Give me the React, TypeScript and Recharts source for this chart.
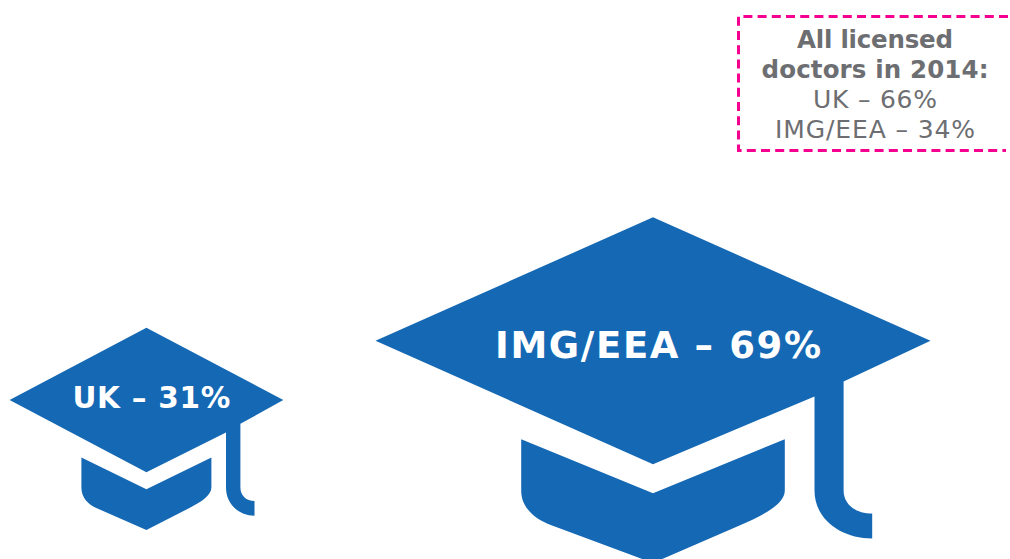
import * as React from "react";
import { Bar, BarChart, XAxis, YAxis } from "recharts";

// Share of new licences by place of qualification, with all licensed doctors alongside.
const categories = ["UK", "IMG/EEA"];
const newDoctorShare = [31, 69];
const allDoctorShare = [66, 34];
const allDoctorsTitle = ["All licensed", "doctors in 2014:"];

const rows = categories.map((name, i) => ({ name, share: newDoctorShare[i] }));

const CAP_BLUE = "#1468b4";
const NOTE_GREY = "#6d6e71";
const NOTE_PINK = "#f5008f";
const FONT = "'DejaVu Sans', Verdana, sans-serif";

// Cap artwork is a fixed outline; each category gets its own drawn size.
const capSize: Record<string, { w: number; h: number; font: number; labelDy: number; labelW: number }> = {
  UK: { w: 273.7, h: 202.3, font: 29.5, labelDy: 80.6, labelW: 158 },
  "IMG/EEA": { w: 555, h: 345.7, font: 37, labelDy: 141, labelW: 326 },
};

const noteTitleWidths = [156, 227];
const noteLineWidths = [124, 200];

function capPaths(cx: number, top: number, w: number, h: number) {
  const X = (u: number) => (cx + u * w).toFixed(1);
  const Y = (v: number) => (top + v * h).toFixed(1);
  const P = (u: number, v: number) => `${X(u)} ${Y(v)}`;

  const board = [
    `M${P(0, 0)}`,
    `L${P(0.5, 0.357)}`,
    `L${P(0.3434, 0.475)}`,
    `L${P(0.3434, 0.79)}`,
    `C${P(0.3434, 0.83)} ${P(0.365, 0.857)} ${P(0.395, 0.857)}`,
    `L${P(0.395, 0.929)}`,
    `C${P(0.34, 0.929)} ${P(0.291, 0.875)} ${P(0.291, 0.79)}`,
    `L${P(0.291, 0.518)}`,
    `L${P(0, 0.714)}`,
    `L${P(-0.5, 0.357)}`,
    "Z",
  ].join(" ");

  const flap = [
    `M${P(-0.2375, 0.642)}`,
    `L${P(0, 0.798)}`,
    `L${P(0.2375, 0.642)}`,
    `L${P(0.2375, 0.79)}`,
    `C${P(0.2375, 0.83)} ${P(0.197, 0.863)} ${P(0.157, 0.891)}`,
    `L${P(0, 1)}`,
    `L${P(-0.183, 0.891)}`,
    `C${P(-0.213, 0.873)} ${P(-0.2375, 0.84)} ${P(-0.2375, 0.79)}`,
    "Z",
  ].join(" ");

  return { board, flap };
}

function CapShape(props: any) {
  const { x, y, width, payload } = props;
  const size = capSize[payload.name];
  const cx = x + width / 2;
  const { board, flap } = capPaths(cx, y, size.w, size.h);
  return (
    <g>
      <path d={board} fill={CAP_BLUE} />
      <path d={flap} fill={CAP_BLUE} />
      <text
        x={cx + 5}
        y={y + size.labelDy}
        textAnchor="middle"
        fill="#fff"
        fontFamily={FONT}
        fontWeight={700}
        fontSize={size.font}
        textLength={size.labelW}
        lengthAdjust="spacing"
      >
        {`${payload.name} – ${payload.share}%`}
      </text>
    </g>
  );
}

function AllDoctorsNote() {
  const textX = 875;
  const lineStyle = { fontFamily: FONT, fill: NOTE_GREY, textAnchor: "middle" as const };
  return (
    <g>
      <path
        d="M1008 16.5H738.5V150.5H1006"
        fill="none"
        stroke={NOTE_PINK}
        strokeWidth={3}
        strokeDasharray="9 5.2"
      />
      {allDoctorsTitle.map((line, i) => (
        <text key={line} x={textX} y={48 + i * 30} fontSize={24.5} fontWeight={700} textLength={noteTitleWidths[i]} style={lineStyle}>
          {line}
        </text>
      ))}
      {categories.map((name, i) => (
        <text key={name} x={textX} y={108 + i * 30} fontSize={25} textLength={noteLineWidths[i]} style={lineStyle}>
          {`${name} – ${allDoctorShare[i]}%`}
        </text>
      ))}
    </g>
  );
}

export default function App() {
  return (
    <div style={{ position: "absolute", left: 0, top: 0, width: 1010, height: 559 }}>
      <BarChart width={1010} height={559} data={rows} margin={{ top: 0, right: 0, bottom: 0, left: 0 }} barSize={2}>
        <XAxis dataKey="name" scale="point" padding={{ left: 146.7, right: 356.7 }} hide />
        <YAxis type="number" domain={[-48.6, 143.8]} hide />
        <Bar dataKey="share" shape={CapShape} isAnimationActive={false} />
        <AllDoctorsNote />
      </BarChart>
    </div>
  );
}
